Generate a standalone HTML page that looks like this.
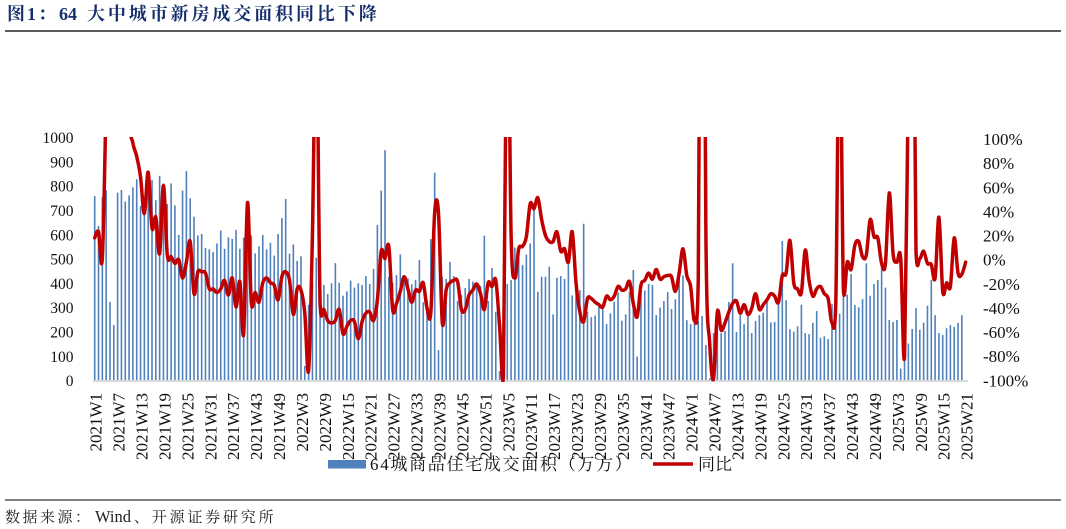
<!DOCTYPE html>
<html>
<head>
<meta charset="utf-8">
<style>
html,body{margin:0;padding:0;background:#fff;}
body{width:1066px;height:529px;overflow:hidden;position:relative;}
svg{position:absolute;left:0;top:0;}
</style>
</head>
<body>
<svg id="c" width="1066" height="529" viewBox="0 0 1066 529" xmlns="http://www.w3.org/2000/svg">
  <defs>
    <clipPath id="plotclip"><rect x="90" y="137" width="880" height="245"/></clipPath>
  </defs>

  <!-- Title -->
  <g font-family="'Liberation Serif','Noto Serif CJK SC',serif" font-weight="bold" font-size="18" fill="#152f6c">
    <text x="7" y="20" letter-spacing="2">图1：</text>
    <text x="59" y="20">64</text>
    <text x="87" y="20" letter-spacing="2.9">大中城市新房成交面积同比下降</text>
  </g>
  <line x1="5" y1="31" x2="1061" y2="31" stroke="#444" stroke-width="1.8"/>

  <!-- Left axis labels -->
  <g font-family="'Liberation Serif',serif" font-size="15.5" fill="#111" text-anchor="end">
    <text x="73.5" y="143.1">1000</text>
    <text x="73.5" y="167.4">900</text>
    <text x="73.5" y="191.7">800</text>
    <text x="73.5" y="216.0">700</text>
    <text x="73.5" y="240.3">600</text>
    <text x="73.5" y="264.6">500</text>
    <text x="73.5" y="288.9">400</text>
    <text x="73.5" y="313.2">300</text>
    <text x="73.5" y="337.5">200</text>
    <text x="73.5" y="361.8">100</text>
    <text x="73.5" y="386.1">0</text>
  </g>

  <!-- Right axis labels -->
  <g font-family="'Liberation Serif',serif" font-size="17" fill="#111">
    <text x="983" y="145.1">100%</text>
    <text x="983" y="169.2">80%</text>
    <text x="983" y="193.4">60%</text>
    <text x="983" y="217.5">40%</text>
    <text x="983" y="241.6">20%</text>
    <text x="983" y="265.7">0%</text>
    <text x="983" y="289.8">-20%</text>
    <text x="983" y="314.0">-40%</text>
    <text x="983" y="338.1">-60%</text>
    <text x="983" y="362.2">-80%</text>
    <text x="983" y="386.3">-100%</text>
  </g>

  <!-- Bars -->
  <g id="bars" fill="#4F81BD"></g>

  <!-- Axis line -->
  <line x1="92.8" y1="381" x2="967.7" y2="381" stroke="#D9D9D9" stroke-width="2"/>

  <!-- YoY line -->
  <g clip-path="url(#plotclip)">
    <path id="ln" d="" fill="none" stroke="#C00000" stroke-width="3.5" stroke-linejoin="round" stroke-linecap="round"/>
  </g>

  <!-- X axis labels -->
  <g font-family="'Liberation Serif',serif" font-size="17" fill="#111" text-anchor="end">
    <text transform="translate(101.7,393) rotate(-90)">2021W1</text>
    <text transform="translate(124.62,393) rotate(-90)">2021W7</text>
    <text transform="translate(147.54,393) rotate(-90)">2021W13</text>
    <text transform="translate(170.46,393) rotate(-90)">2021W19</text>
    <text transform="translate(193.38,393) rotate(-90)">2021W25</text>
    <text transform="translate(216.3,393) rotate(-90)">2021W31</text>
    <text transform="translate(239.22,393) rotate(-90)">2021W37</text>
    <text transform="translate(262.14,393) rotate(-90)">2021W43</text>
    <text transform="translate(285.06,393) rotate(-90)">2021W49</text>
    <text transform="translate(307.98,393) rotate(-90)">2022W3</text>
    <text transform="translate(330.9,393) rotate(-90)">2022W9</text>
    <text transform="translate(353.82,393) rotate(-90)">2022W15</text>
    <text transform="translate(376.74,393) rotate(-90)">2022W21</text>
    <text transform="translate(399.66,393) rotate(-90)">2022W27</text>
    <text transform="translate(422.58,393) rotate(-90)">2022W33</text>
    <text transform="translate(445.5,393) rotate(-90)">2022W39</text>
    <text transform="translate(468.42,393) rotate(-90)">2022W45</text>
    <text transform="translate(491.34,393) rotate(-90)">2022W51</text>
    <text transform="translate(514.26,393) rotate(-90)">2023W5</text>
    <text transform="translate(537.18,393) rotate(-90)">2023W11</text>
    <text transform="translate(560.1,393) rotate(-90)">2023W17</text>
    <text transform="translate(583.02,393) rotate(-90)">2023W23</text>
    <text transform="translate(605.94,393) rotate(-90)">2023W29</text>
    <text transform="translate(628.86,393) rotate(-90)">2023W35</text>
    <text transform="translate(651.78,393) rotate(-90)">2023W41</text>
    <text transform="translate(674.7,393) rotate(-90)">2023W47</text>
    <text transform="translate(697.62,393) rotate(-90)">2024W1</text>
    <text transform="translate(720.54,393) rotate(-90)">2024W7</text>
    <text transform="translate(743.46,393) rotate(-90)">2024W13</text>
    <text transform="translate(766.38,393) rotate(-90)">2024W19</text>
    <text transform="translate(789.3,393) rotate(-90)">2024W25</text>
    <text transform="translate(812.22,393) rotate(-90)">2024W31</text>
    <text transform="translate(835.14,393) rotate(-90)">2024W37</text>
    <text transform="translate(858.06,393) rotate(-90)">2024W43</text>
    <text transform="translate(880.98,393) rotate(-90)">2024W49</text>
    <text transform="translate(903.9,393) rotate(-90)">2025W3</text>
    <text transform="translate(926.82,393) rotate(-90)">2025W9</text>
    <text transform="translate(949.74,393) rotate(-90)">2025W15</text>
    <text transform="translate(972.66,393) rotate(-90)">2025W21</text>
  </g>

  <!-- Legend -->
  <rect x="328" y="460" width="38" height="8.5" fill="#4F81BD"/>
  <text x="370" y="470" font-family="'Liberation Serif','Noto Serif CJK SC',serif" font-size="17" fill="#111" letter-spacing="1.7">64城商品住宅成交面积（万方）</text>
  <line x1="653" y1="464" x2="693" y2="464" stroke="#C00000" stroke-width="3.5"/>
  <text x="698" y="470" font-family="'Liberation Serif','Noto Serif CJK SC',serif" font-size="17" fill="#111">同比</text>

  <!-- Footer -->
  <line x1="5" y1="500" x2="1061" y2="500" stroke="#555" stroke-width="1.6"/>
  <g font-family="'Liberation Serif','Noto Serif CJK SC',serif" fill="#222">
    <text x="5" y="522" font-size="15" letter-spacing="2.5">数据来源：</text>
    <text x="95" y="522" font-size="16.5">Wind</text>
    <text x="134" y="522" font-size="15" letter-spacing="2.8">、开源证券研究所</text>
  </g>
</svg>

<script>
(function(){
  var NS = "http://www.w3.org/2000/svg";
  var bars = [757,634,752,780,321,226,771,782,734,760,
    793,826,716,725,830,823,740,840,809,724,
    809,719,597,779,860,748,672,595,601,543,
    538,527,562,615,540,587,580,617,540,586,
    600,595,521,550,597,538,565,512,601,667,
    745,520,558,490,509,58,310,400,503,420,
    391,354,398,481,400,347,365,409,380,398,
    391,428,395,457,638,779,946,425,400,432,
    517,429,418,394,412,494,320,330,580,853,
    123,425,416,486,428,325,351,379,416,405,
    395,387,594,325,461,281,37,400,395,412,
    545,530,473,516,562,706,363,425,425,466,
    270,421,428,416,494,348,380,370,643,281,
    259,265,302,292,230,274,322,360,244,270,
    363,453,96,370,368,395,391,267,298,325,
    362,292,332,420,430,246,230,243,243,263,
    144,7,193,296,193,202,321,480,198,267,
    230,263,193,243,267,277,325,237,239,316,
    572,328,209,199,221,310,193,189,235,284,
    174,180,169,313,219,273,363,351,436,309,
    299,333,480,347,395,412,480,380,247,239,
    247,47,78,150,210,296,207,236,306,412,
    267,193,185,213,226,219,235,267];
  var line = [17,22,0,130,250,250,250,250,250,120,
    95,84,67,37,71,25,34,4,60,3,
    1.5,-4,-1,-16,-3,14,-29,-11,-11,-12,
    -25,-25,-28,-25,-18,-30,-16,-40,-19,-62,
    46,-36,-28,-36,-20,-16,-20,-22,-34,-15,
    -11,-18,-46,-25,-26,-45,-92,20,200,-37,
    -42,-51,-53,-51,-42,-62,-56,-51,-52,-66,
    -52,-45,-44,-51,-34,6,0,10,-42,-37,
    -27,-15,-25,-36,-26,-27,-20,-41,-44,38,
    37,-53,-26,-20,-18,-19,-42,-42,-30,-26,
    -21,-29,-42,-20,-23,-18,-56,-97,250,20,
    -16,8,10,18,45,41,50,32,19,14,
    14,22,6,8,-3,22,-20,-44,-52,-33,
    -33,-36,-38,-40,-31,-34,-31,-23,-26,-25,
    -19,-37,-48,-22,-18,-12,-17,-9,-17,-15,
    -14,-15,-27,-12,8,-14,-23,-51,-18,500,
    20,-70,-99,-44,-59,-53,-44,-37,-35,-45,
    -38,-46,-41,-29,-42,-38,-34,-29,-31,-36,
    -14,-12,15,-20,-25,-28,7,-18,-31,-25,
    -23,-29,-33,-53,-37,210,-26,-3,-9,11,
    14,1.5,3,32,18,17,-4,-4,54,4,
    -3,0,-81,150,350,6,0,6,-4,-5,
    -16,34,-27,-20,-23,17,-12,-13,-3];
  var W = 3.82, X0 = 94.7;
  function px(i){ return X0 + W*i; }
  function py(p){ return 258.5 - p*1.215; }

  var g = document.getElementById('bars');
  for (var i=0;i<bars.length;i++){
    var h = bars[i]*0.243;
    var r = document.createElementNS(NS,'rect');
    r.setAttribute('x',(px(i)-0.8).toFixed(2));
    r.setAttribute('y',(380-h).toFixed(2));
    r.setAttribute('width','1.6');
    r.setAttribute('height',h.toFixed(2));
    g.appendChild(r);
  }

  var pts = [];
  for (var j=0;j<line.length;j++){ pts.push([px(j), py(line[j])]); }
  var M = 20;
  var d = 'M' + pts[0][0].toFixed(2) + ',' + pts[0][1].toFixed(2);
  for (var k=0;k<pts.length-1;k++){
    var p0 = pts[Math.max(k-1,0)], p1 = pts[k], p2 = pts[k+1], p3 = pts[Math.min(k+2,pts.length-1)];
    var c1x = p1[0] + (p2[0]-p0[0])/6, c1y = p1[1] + (p2[1]-p0[1])/6;
    var c2x = p2[0] - (p3[0]-p1[0])/6, c2y = p2[1] - (p3[1]-p1[1])/6;
    var lo = Math.min(p1[1],p2[1]) - M, hi = Math.max(p1[1],p2[1]) + M;
    c1y = Math.max(lo, Math.min(hi, c1y));
    c2y = Math.max(lo, Math.min(hi, c2y));
    d += ' C' + c1x.toFixed(2) + ',' + c1y.toFixed(2) + ' ' + c2x.toFixed(2) + ',' + c2y.toFixed(2) + ' ' + p2[0].toFixed(2) + ',' + p2[1].toFixed(2);
  }
  document.getElementById('ln').setAttribute('d', d);
})();
</script>
</body>
</html>
